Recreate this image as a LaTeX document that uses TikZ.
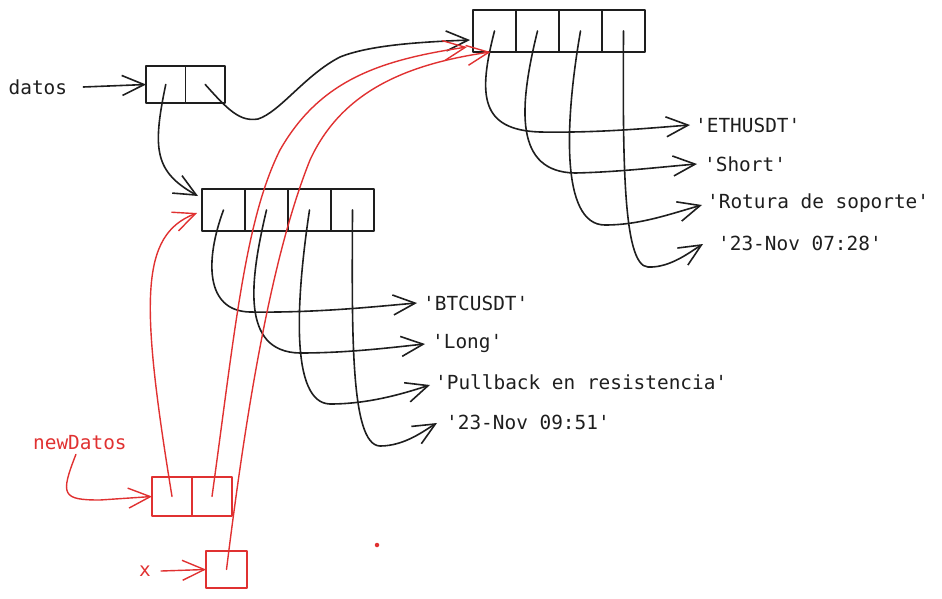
\documentclass[tikz,border=0pt]{standalone}
\usepackage{fontspec}
\setmonofont{DejaVu Sans Mono}
\usetikzlibrary{arrows.meta}
\definecolor{ink}{HTML}{1E1E1E}
\definecolor{exred}{HTML}{E03131}
\begin{document}
\begin{tikzpicture}[x=1pt,y=-1pt, line cap=round, line join=round,
  cell/.style={draw=ink, line width=1.7pt, minimum width=43pt, minimum height=42pt, inner sep=0pt, outer sep=0pt},
  rcell/.style={cell, draw=exred, line width=1.4pt},
  lbl/.style={font=\ttfamily\fontsize{19.4}{21}\selectfont, text=ink, anchor=west, inner sep=0pt},
  rlbl/.style={lbl, text=exred},
  ptr/.style={draw=ink, line width=1.6pt, -{Straight Barb[length=22pt,width=20pt]}},
  rptr/.style={ptr, draw=exred, line width=1.4pt}]
\useasboundingbox (0,0) rectangle (942,598);

% datos cells
\node[cell, minimum width=39.5pt, minimum height=37pt] (d1) at (165.75,84.5) {};
\node[cell, minimum width=39.5pt, minimum height=37pt] (d2) at (205.25,84.5) {};
% ETH array
\node[cell] (e1) at (494.5,31) {};
\node[cell] (e2) at (537.5,31) {};
\node[cell] (e3) at (580.5,31) {};
\node[cell] (e4) at (623.5,31) {};
% BTC array
\node[cell] (b1) at (223.5,210) {};
\node[cell] (b2) at (266.5,210) {};
\node[cell] (b3) at (309.5,210) {};
\node[cell] (b4) at (352.5,210) {};
% newDatos cells
\node[rcell, minimum width=40pt, minimum height=39pt] (n1) at (172,496.5) {};
\node[rcell, minimum width=40pt, minimum height=39pt] (n2) at (212,496.5) {};
% x box
\node[rcell, minimum width=41pt, minimum height=37pt] (xb) at (226.5,569.5) {};

% labels
\node[lbl] (tdatos) at (8.5,87) {datos};
\node[lbl] (tETH) at (695,125) {'ETHUSDT'};
\node[lbl] (tShort) at (704,164) {'Short'};
\node[lbl] (tRot) at (707,203) {'Rotura de soporte'};
\node[lbl] (tE4) at (718,243) {'23-Nov 07:28'};
\node[lbl] (tBTC) at (423,303) {'BTCUSDT'};
\node[lbl] (tLong) at (432,344) {'Long'};
\node[lbl] (tPull) at (435,382) {'Pullback en resistencia'};
\node[lbl] (tB4) at (446,422) {'23-Nov 09:51'};
\node[rlbl] (tnew) at (33,443) {newDatos};
\node[rlbl] (tx) at (139,571) {x};
\node[circle, fill=exred, inner sep=0pt, minimum size=4.5pt] (dot) at (377,545) {};

% black pointers
\draw[ptr] ([xshift=16pt]tdatos.east) -- (d1.west);
\draw[ptr] (d1.center) .. controls (152,150) and (155,172) .. ([shift={(-4pt,-7pt)}]b1.north west);
\draw[ptr] (d2.center) .. controls (228,110) and (240,122) .. (258,119)
  .. controls (280,112) and (305,75) .. (340,57)
  .. controls (370,45) and (420,42) .. ([shift={(-3pt,-9pt)}]e1.west);

\draw[ptr] (e1.center) .. controls (478,95) and (480,130) .. (540,132)
  .. controls (600,133) and (650,128) .. ([xshift=-5pt]tETH.west);
\draw[ptr] (e2.center) .. controls (518,110) and (515,172) .. (575,173)
  .. controls (620,172) and (660,167) .. ([xshift=-7pt]tShort.west);
\draw[ptr] (e3.center) .. controls (565,120) and (560,225) .. (605,225)
  .. controls (640,225) and (670,214) .. ([shift={(-5pt,-2pt)}]tRot.west);
\draw[ptr] (e4.center) .. controls (623,150) and (622,266) .. (648,267)
  .. controls (670,268) and (690,252) .. ([shift={(-15pt,-1pt)}]tE4.west);

\draw[ptr] (b1.center) .. controls (205,260) and (205,311) .. (250,312)
  .. controls (320,313) and (380,306) .. ([xshift=-6pt]tBTC.west);
\draw[ptr] (b2.center) .. controls (250,280) and (240,352) .. (300,353)
  .. controls (350,353) and (395,347) .. ([xshift=-7pt]tLong.west);
\draw[ptr] (b3.center) .. controls (296,300) and (290,403) .. (330,404)
  .. controls (370,404) and (405,393) .. ([shift={(-5pt,-3pt)}]tPull.west);
\draw[ptr] (b4.center) .. controls (352,330) and (350,445) .. (380,446)
  .. controls (405,446) and (425,430) .. ([shift={(-9pt,-1pt)}]tB4.west);

% red pointers
\draw[rptr] ([shift={(-4pt,-4pt)}]tnew.south) .. controls (60,495) and (62,500) .. (100,500) -- (n1.west);
\draw[rptr] ([xshift=10pt]tx.east) -- (xb.west);
\draw[rptr] (n1.center) .. controls (140,300) and (140,235) .. ([shift={(-5pt,-3pt)}]b1.west);
\draw[rptr] (n2.center) .. controls (235,330) and (245,220) .. (280,150)
  .. controls (320,80) and (380,60) .. ([shift={(-6pt,-16pt)}]e1.west);
\draw[rptr] (xb.center) .. controls (245,420) and (270,260) .. (310,160)
  .. controls (340,95) and (400,65) .. ([xshift=-4pt]e1.south);
\end{tikzpicture}
\end{document}
